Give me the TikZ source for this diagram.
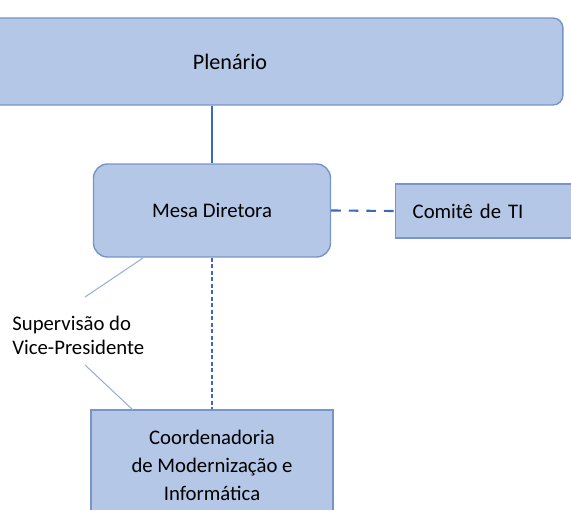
\documentclass[tikz,border=0pt]{standalone}
\usepackage{fontspec}
\setmainfont{Carlito}
\usepackage{tikz}
\usepackage{xcolor}
\usetikzlibrary{positioning}
\definecolor{boxfill}{RGB}{180,199,231}
\definecolor{boxline}{RGB}{120,148,200}
\definecolor{linkblue}{RGB}{60,105,190}
\definecolor{leaderblue}{RGB}{150,175,220}

\begin{document}
\begin{tikzpicture}[x=0.02cm, y=-0.02cm,
    orgbox/.style={rectangle, draw=boxline, fill=boxfill, line width=0.8pt, align=center, font=\fontsize{11.8}{14}\selectfont},
    solidlink/.style={draw=linkblue, line width=1.3pt},
    dashlink/.style={draw=linkblue, line width=1.2pt, dash pattern=on 5.5pt off 4.5pt},
    dotlink/.style={draw=linkblue, line width=1.3pt, dash pattern=on 2.4pt off 1.3pt},
    leader/.style={draw=leaderblue, line width=0.6pt}
]
\clip (0,0) rectangle (571,510);

\node[orgbox, rounded corners=0.2cm, minimum width=13.32cm, minimum height=1.74cm, font=\fontsize{12.6}{15}\selectfont] (plenario) at (230,61.5) {Plenário};
\node[orgbox, rounded corners=0.28cm, minimum width=4.74cm, minimum height=1.86cm] (mesa) at (212,210.5) {Mesa Diretora};
\node[orgbox, anchor=west, minimum width=4.1cm, minimum height=1.08cm, inner xsep=0.34cm, text width=3.42cm, align=left] (comite) at (395,211) {Comitê de TI};
\node[orgbox, minimum width=4.84cm, minimum height=2.2cm, font=\fontsize{11.8}{15.9}\selectfont] (coord) at (212,465) {Coordenadoria\\de Modernização e\\Informática};
\node[anchor=west, align=left, inner sep=0pt, font=\fontsize{11.8}{13.6}\selectfont] (superv) at (12,335) {Supervisão do\\Vice-Presidente};

\coordinate (lead1a) at (143,258);
\coordinate (lead1b) at (85,297);
\coordinate (lead2a) at (85,365);
\coordinate (lead2b) at (133,410);

\draw[solidlink] (mesa.north |- plenario.south) -- (mesa.north);
\draw[dashlink] (mesa.east) -- (comite.west);
\draw[dotlink] (mesa.south) -- (mesa.south |- coord.north);
\draw[leader] (lead1a) -- (lead1b);
\draw[leader] (lead2a) -- (lead2b);

\end{tikzpicture}
\end{document}
